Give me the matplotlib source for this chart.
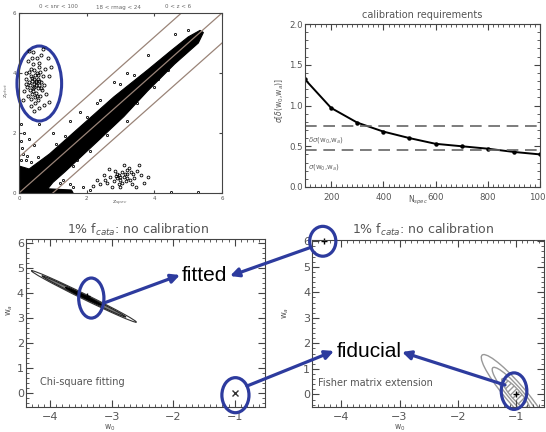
import numpy as np
import matplotlib
matplotlib.use("Agg")
import matplotlib.pyplot as plt
from matplotlib.patches import Ellipse, FancyArrowPatch, Polygon
from matplotlib.ticker import MultipleLocator

# ---------------- data ----------------
# top-left: photo-z vs spec-z
zphot_ticks = [0, 2, 4, 6]
zphot_header = ["0 < snr < 100", "18 < rmag < 24", "0 < z < 6"]
outlier_line_offsets = [1.2, 0.0, -1.0]
band_outline = [(0.0, 0.0), (0.0, 0.9), (0.3, 0.8), (0.9, 1.3), (1.8, 2.2), (2.8, 3.2),
                (3.8, 4.1), (4.5, 4.75), (5.0, 5.2), (5.35, 5.42), (5.45, 5.35), (5.3, 5.0),
                (4.6, 4.3), (3.8, 3.4), (3.1, 2.55), (2.3, 1.7), (1.35, 0.7), (1.0, 0.35),
                (0.85, 0.14), (1.55, 0.1), (1.6, 0.0)]
cluster_high = [(0.35, 3.90), (0.45, 3.80), (0.50, 3.60), (0.40, 3.50), (0.55, 3.95), (0.30, 3.70),
                (0.60, 3.75), (0.45, 4.10), (0.38, 3.30), (0.50, 3.35), (0.65, 3.50), (0.25, 3.55),
                (0.42, 4.30), (0.58, 4.20), (0.30, 4.05), (0.70, 3.90), (0.35, 3.15), (0.55, 3.10),
                (0.48, 3.00), (0.62, 3.25), (0.20, 3.80), (0.75, 3.60), (0.28, 4.40), (0.52, 4.50),
                (0.40, 4.70), (0.65, 4.60), (0.85, 4.50), (0.80, 3.30), (0.90, 3.90), (0.15, 3.40),
                (0.20, 4.00), (0.35, 2.90), (0.60, 2.85), (0.75, 2.95), (0.45, 2.75), (0.90, 3.05),
                (0.12, 3.10), (0.95, 4.20), (0.70, 4.80), (0.30, 4.75), (0.50, 3.70), (0.43, 3.65),
                (0.38, 3.85), (0.55, 3.50), (0.47, 3.95), (0.33, 3.60), (0.41, 3.40), (0.57, 3.80),
                (0.52, 4.00), (0.36, 4.15), (0.46, 3.20), (0.63, 4.05), (0.27, 3.25), (0.68, 3.45),
                (0.49, 3.75), (0.44, 3.55), (0.39, 3.75), (0.53, 3.25), (0.60, 3.60), (0.32, 3.45),
                (0.78, 4.15), (0.22, 3.65), (0.58, 4.35), (0.66, 3.70), (0.37, 4.50)]
cluster_low = [(2.90, 0.50), (3.00, 0.45), (3.10, 0.55), (2.95, 0.60), (3.05, 0.35), (3.20, 0.65),
               (2.80, 0.40), (3.15, 0.40), (3.30, 0.70), (2.70, 0.55), (3.40, 0.50), (2.60, 0.35),
               (3.25, 0.85), (3.50, 0.75), (2.85, 0.75), (3.60, 0.60), (2.50, 0.60), (2.40, 0.30),
               (3.35, 0.30), (3.70, 0.35), (2.75, 0.20), (3.00, 0.20), (2.20, 0.25), (2.30, 0.45),
               (3.55, 0.95), (3.10, 0.95), (2.65, 0.80), (3.80, 0.55), (3.45, 0.20), (2.95, 0.30),
               (3.05, 0.70), (2.90, 0.65), (3.20, 0.50), (3.12, 0.62), (2.98, 0.52), (3.28, 0.45),
               (2.88, 0.58), (3.38, 0.62), (3.18, 0.78), (2.55, 0.45)]
outliers = [(0.10, 1.50), (0.15, 2.00), (0.05, 2.30), (0.30, 1.80), (0.25, 1.25), (0.45, 1.60),
            (0.05, 1.10), (0.12, 1.30), (0.35, 1.05), (0.55, 1.20), (0.05, 1.75), (0.20, 1.10),
            (1.20, 0.35), (1.50, 0.30), (1.60, 0.20), (1.30, 0.45), (1.90, 0.20), (2.10, 0.10),
            (1.50, 2.40), (1.80, 2.70), (1.00, 2.00), (2.40, 3.10), (2.80, 3.70), (3.20, 4.00),
            (2.60, 2.20), (3.20, 2.40), (3.50, 3.00), (4.00, 3.55), (4.40, 4.10), (2.10, 1.40),
            (1.70, 1.10), (3.80, 4.60), (4.60, 5.30), (5.00, 5.45), (4.50, 0.05), (5.30, 0.05),
            (1.10, 1.65), (0.70, 0.50), (2.30, 3.00), (3.00, 3.65), (0.60, 2.30), (1.35, 1.90),
            (2.00, 2.55), (1.60, 0.90), (2.60, 1.95), (3.40, 3.95), (4.10, 3.80), (1.05, 0.70)]

# top-right: calibration requirements
n_spec = [100, 200, 300, 400, 500, 600, 700, 800, 900, 1000]
sigma_delta = [1.32, 0.97, 0.79, 0.68, 0.60, 0.53, 0.50, 0.47, 0.43, 0.40]
req_levels = [0.75, 0.46]
req_labels = [r"$\delta\sigma$(w$_0$,w$_a$)", r"$\sigma$(w$_0$,w$_a$)"]

# bottom panels: w0-wa planes
fiducial_point = (-1.0, 0.0)
chi2_fit_point = (-3.4, 3.9)
fisher_fit_point = (-4.3, 6.0)
chi2_center = (-3.45, 3.875)
chi2_half_axis = (0.85, -1.03)        # half major axis vector (w0, wa)
chi2_scales = [1.0, 0.8, 0.35]        # relative lengths of contours
chi2_widths = [0.15, 0.10, 0.07]
fisher_half_axis = (-0.56, 1.56)
fisher_scales = [1.0, 0.68, 0.4]
fisher_widths = [0.42, 0.30, 0.20]

# ---------------- figure ----------------
W, H = 546, 432
fig = plt.figure(figsize=(W / 100, H / 100), dpi=100)
BLUE = "#2d3b9e"
GRAY = "#555555"


def add_ax(l, t, r, b):
    return fig.add_axes([l / W, 1 - b / H, (r - l) / W, (b - t) / H])


def fp(x, y):
    return (x / W, 1 - y / H)


def style(ax, size, col=GRAY):
    ax.tick_params(which="both", direction="in", top=True, right=True,
                   colors="#444444", labelcolor=col, labelsize=size, pad=2)
    for s in ax.spines.values():
        s.set_color("#444444")
        s.set_linewidth(0.8)


# ---- top-left ----
ax1 = add_ax(19, 13, 222, 193)
ax1.set_xlim(0, 6)
ax1.set_ylim(0, 6)
ax1.add_patch(Polygon(band_outline, closed=True, facecolor="black", edgecolor="black", lw=0.8))
for cl, ms in ((cluster_high, 2.2), (cluster_low, 2.0), (outliers, 1.6)):
    xs, ys = zip(*cl)
    ax1.plot(xs, ys, ls="none", marker="o", ms=ms, mfc="none", mec="black", mew=0.6)
for off in outlier_line_offsets:
    ax1.plot([0, 6], [off, 6 + off], color="#9a8478", lw=0.9)
ax1.set_xticks(zphot_ticks)
ax1.set_yticks(zphot_ticks)
style(ax1, 4)
ax1.tick_params(length=2.5)
for txt, xx in zip(zphot_header, (58, 118, 178)):
    fig.text(*fp(xx, 7), txt, fontsize=4, color="#666666", ha="center", va="center")
fig.text(*fp(120, 203), r"z$_{spec}$", fontsize=4.5, color="#666666", ha="center", va="center")
fig.text(*fp(7, 90), r"z$_{phot}$", fontsize=4.5, color="#666666", ha="center", va="center", rotation=90)
ax1.add_patch(Ellipse((0.6, 3.65), 1.32, 2.5, fill=False, edgecolor=BLUE, lw=2.2, clip_on=False))

# ---- top-right ----
ax2 = add_ax(305, 24, 540, 187)
ax2.plot(n_spec, sigma_delta, color="black", lw=1.4, marker="o", ms=2.2)
for lev in req_levels:
    ax2.axhline(lev, color="#666666", lw=1.2, dashes=(7, 4))
ax2.text(112, req_levels[0] - 0.19, req_labels[0], fontsize=5, color="#666666")
ax2.text(112, req_levels[1] - 0.23, req_labels[1], fontsize=5, color="#666666")
ax2.set_xlim(100, 1000)
ax2.set_ylim(0, 2)
ax2.set_xticks([200, 400, 600, 800, 1000])
ax2.set_yticks([0, 0.5, 1.0, 1.5, 2.0])
ax2.set_yticklabels(["0.0", "0.5", "1.0", "1.5", "2.0"])
ax2.xaxis.set_minor_locator(MultipleLocator(20))
ax2.yaxis.set_minor_locator(MultipleLocator(0.1))
style(ax2, 6.2)
ax2.tick_params(which="major", length=4)
ax2.tick_params(which="minor", length=2)
ax2.tick_params(axis="x", pad=4)
ax2.tick_params(axis="y", pad=1.5)
fig.text(*fp(422, 15), "calibration requirements", fontsize=7, color=GRAY, ha="center", va="center")
fig.text(*fp(418, 200), r"N$_{spec}$", fontsize=5.5, color=GRAY, ha="center", va="center")
fig.text(*fp(280, 100), r"$\sigma$[$\delta$(w$_0$,w$_a$)]", fontsize=5.5, color=GRAY,
         ha="center", va="center", rotation=90)


def w_axes(ax, xlim, ylim):
    ax.set_xlim(*xlim)
    ax.set_ylim(*ylim)
    ax.set_xticks([-4, -3, -2, -1])
    ax.set_yticks([0, 1, 2, 3, 4, 5, 6])
    ax.xaxis.set_minor_locator(MultipleLocator(0.1))
    ax.yaxis.set_minor_locator(MultipleLocator(0.2))
    style(ax, 8)
    ax.tick_params(which="major", length=5)
    ax.tick_params(which="minor", length=2)
    ax.tick_params(axis="x", pad=3.5)
    ax.tick_params(axis="y", pad=1.5)


def contour(ax, center, half_axis, scale, width, **kw):
    ang = np.degrees(np.arctan2(half_axis[1], half_axis[0]))
    length = 2 * np.hypot(*half_axis) * scale
    e = Ellipse(center, length, width, angle=ang, **kw)
    ax.add_patch(e)
    return e


# ---- bottom-left ----
ax3 = add_ax(26, 239, 265, 406.7)
w_axes(ax3, (-4.39, -0.51), (-0.53, 6.17))
contour(ax3, chi2_center, chi2_half_axis, chi2_scales[0], chi2_widths[0], fill=False, ec="#333333", lw=0.8)
contour(ax3, chi2_center, chi2_half_axis, chi2_scales[1], chi2_widths[1], fc="#777777", ec="#222222", lw=0.8)
contour(ax3, chi2_center, chi2_half_axis, chi2_scales[2], chi2_widths[2], fc="black", ec="black", lw=0.8)
ax3.plot(*chi2_fit_point, marker="+", color="black", ms=5, mew=1)
ax3.plot(*fiducial_point, marker="x", color="#333333", ms=5, mew=1)
ax3.text(-4.17, 0.46, "Chi-square fitting", fontsize=7, color=GRAY, va="center")
ax3.add_patch(Ellipse((chi2_fit_point[0] + 0.07, chi2_fit_point[1] - 0.09), 0.41, 1.6,
                      fill=False, ec=BLUE, lw=2.3, clip_on=False, zorder=5))
ax3.add_patch(Ellipse((fiducial_point[0] + 0.01, fiducial_point[1] - 0.07), 0.44, 1.4,
                      fill=False, ec=BLUE, lw=2.3, clip_on=False, zorder=5))
fig.text(*fp(138, 230), r"1% f$_{cata}$: no calibration", fontsize=9, color=GRAY, ha="center", va="center")
fig.text(*fp(110, 428), r"w$_0$", fontsize=5.5, color=GRAY, ha="center", va="center")
fig.text(*fp(10, 310), r"w$_a$", fontsize=6, color=GRAY, ha="center", va="center", rotation=90)

# ---- bottom-right ----
ax4 = add_ax(312.3, 240, 543.7, 406.7)
w_axes(ax4, (-4.5, -0.52), (-0.48, 6.05))
for sc, wd in zip(fisher_scales, fisher_widths):
    contour(ax4, fiducial_point, fisher_half_axis, sc, wd, fill=False, ec="#999999", lw=1.0)
contour(ax4, fiducial_point, fisher_half_axis, fisher_scales[2], fisher_widths[2],
        fill=False, ec="#999999", lw=0, hatch="//////")
ax4.plot(*fiducial_point, marker="+", color="black", ms=5, mew=1)
ax4.plot(*fisher_fit_point, marker="+", color="black", ms=5, mew=1, clip_on=False)
ax4.text(-4.4, 0.45, "Fisher matrix extension", fontsize=7, color=GRAY, va="center")
ax4.add_patch(Ellipse((fisher_fit_point[0] - 0.02, fisher_fit_point[1]), 0.45, 1.17,
                      fill=False, ec=BLUE, lw=2.3, clip_on=False, zorder=5))
ax4.add_patch(Ellipse((fiducial_point[0] - 0.03, fiducial_point[1] + 0.13), 0.44, 1.43,
                      fill=False, ec=BLUE, lw=2.3, clip_on=False, zorder=5))
fig.text(*fp(423, 230), r"1% f$_{cata}$: no calibration", fontsize=9, color=GRAY, ha="center", va="center")
fig.text(*fp(400, 428), r"w$_0$", fontsize=5.5, color=GRAY, ha="center", va="center")
fig.text(*fp(286, 313), r"w$_a$", fontsize=6, color=GRAY, ha="center", va="center", rotation=90)

# ---- annotations ----
fig.text(*fp(204.7, 281), "fitted", fontsize=15, family="Liberation Sans", ha="center", va="baseline")
fig.text(*fp(368.8, 357), "fiducial", fontsize=15, family="Liberation Sans", ha="center", va="baseline")
for a, b in (((104, 303), (180, 275)), ((309, 248), (230, 276)),
             ((247, 386), (334, 351)), ((505, 385), (402, 352))):
    arr = FancyArrowPatch(fp(*a), fp(*b), transform=fig.transFigure, arrowstyle="-|>",
                          mutation_scale=13, color=BLUE, lw=2.3, shrinkA=0, shrinkB=0, zorder=10)
    fig.patches.append(arr)

fig.savefig("out.png", dpi=100)
